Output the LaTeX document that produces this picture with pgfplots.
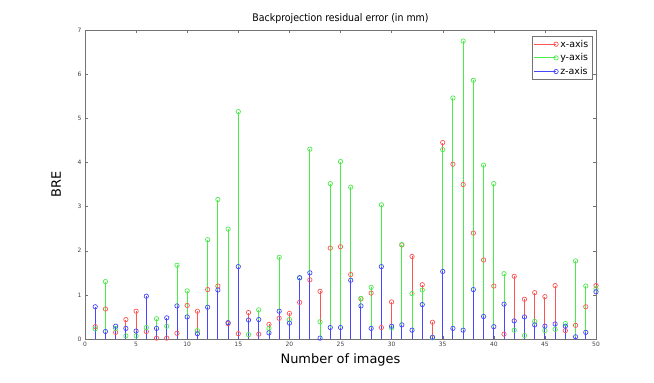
\documentclass[border=0pt]{standalone}
\usepackage{pgfplots}
\pgfplotsset{compat=1.18}
\usepackage{pgfplotstable}
\usepackage{fontspec}
\setmainfont{DejaVu Sans}
\newfontfamily\condfont{DejaVu Sans Condensed}

\definecolor{xred}{rgb}{1,0.33,0.33}
\definecolor{ygreen}{rgb}{0.3,0.92,0.3}
\definecolor{zblue}{rgb}{0.28,0.28,1}
\definecolor{axgray}{rgb}{0.45,0.45,0.45}

% image, x-axis, y-axis, z-axis
\pgfplotstableread{
n  x     y     z
1  0.28  0.23  0.73
2  0.68  1.30  0.17
3  0.15  0.24  0.29
4  0.44  0.07  0.24
5  0.63  0.07  0.18
6  0.17  0.26  0.97
7  0.02  0.46  0.24
8  0.02  0.29  0.48
9  0.13  1.67  0.75
10 0.76  1.09  0.50
11 0.63  0.19  0.12
12 1.12  2.25  0.72
13 1.20  3.16  1.11
14 0.35  2.49  0.37
15 0.12  5.15  1.64
16 0.60  0.10  0.43
17 0.11  0.66  0.44
18 0.33  0.24  0.14
19 0.47  1.85  0.63
20 0.58  0.44  0.36
21 0.83  1.38  1.39
22 1.34  4.30  1.50
23 1.08  0.39  0.02
24 2.06  3.52  0.26
25 2.09  4.02  0.26
26 1.46  3.44  1.33
27 0.91  0.92  0.75
28 1.04  1.17  0.24
29 0.26  3.04  1.64
30 0.84  0.25  0.29
31 2.13  2.14  0.32
32 1.87  1.03  0.20
33 1.23  1.11  0.78
34 0.38  0.03  0.04
35 4.45  4.29  1.53
36 3.96  5.46  0.24
37 3.50  6.75  0.20
38 2.40  5.86  1.12
39 1.79  3.94  0.51
40 1.20  3.52  0.28
41 0.11  1.48  0.79
42 1.42  0.20  0.41
43 0.90  0.08  0.50
44 1.05  0.40  0.32
45 0.96  0.19  0.29
46 1.21  0.22  0.34
47 0.19  0.35  0.29
48 0.31  1.77  0.05
49 0.73  1.20  0.15
50 1.21  1.14  1.07
}\bre

\begin{document}
\begin{tikzpicture}[x=1bp,y=1bp]
\path[use as bounding box] (-85,-43) rectangle (569,339);
\begin{axis}[
    at={(0,0)}, anchor=south west,
    scale only axis,
    width=511bp, height=309bp,
    xmin=0, xmax=50, ymin=0, ymax=7,
    xtick={0,5,...,50}, ytick={0,1,...,7},
    tick align=inside,
    major tick length=3bp,
    axis line style={axgray, line width=0.5pt},
    every tick/.style={axgray},
    tick label style={font=\fontsize{6}{7}\selectfont, text=black!75},
    /pgf/number format/assume math mode=true,
    title={\condfont Backprojection residual error (in mm)},
    title style={font=\fontsize{10.5}{12}\selectfont, yshift=-3bp},
    xlabel={Number of images},
    ylabel={BRE},
    xlabel style={font=\fontsize{13}{15}\selectfont},
    ylabel style={font=\fontsize{13}{15}\selectfont, yshift=10bp},
    ycomb,
    legend image code/.code={
        \draw[#1,mark=none] (0bp,0bp) -- (22bp,0bp);
        \draw[#1,sharp plot] plot coordinates {(22bp,0bp)};
    },
    legend style={at={(0.992,0.98)}, anchor=north east,
        draw=axgray, font=\fontsize{9.5}{11}\selectfont,
        inner sep=1.5bp, row sep=1bp, cells={anchor=west}},
]
\addplot[draw=xred, color=xred, line width=0.9bp, mark=o, mark size=2.2pt,
    mark options={solid, xred, line width=0.7pt}] table[x=n, y=x] {\bre};
\addplot[draw=ygreen, color=ygreen, line width=0.9bp, mark=o, mark size=2.2pt,
    mark options={solid, ygreen, line width=0.7pt}] table[x=n, y=y] {\bre};
\addplot[draw=zblue, color=zblue, line width=0.9bp, mark=o, mark size=2.2pt,
    mark options={solid, zblue, line width=0.7pt}] table[x=n, y=z] {\bre};
\legend{x-axis, y-axis, z-axis}
\end{axis}
\end{tikzpicture}
\end{document}
